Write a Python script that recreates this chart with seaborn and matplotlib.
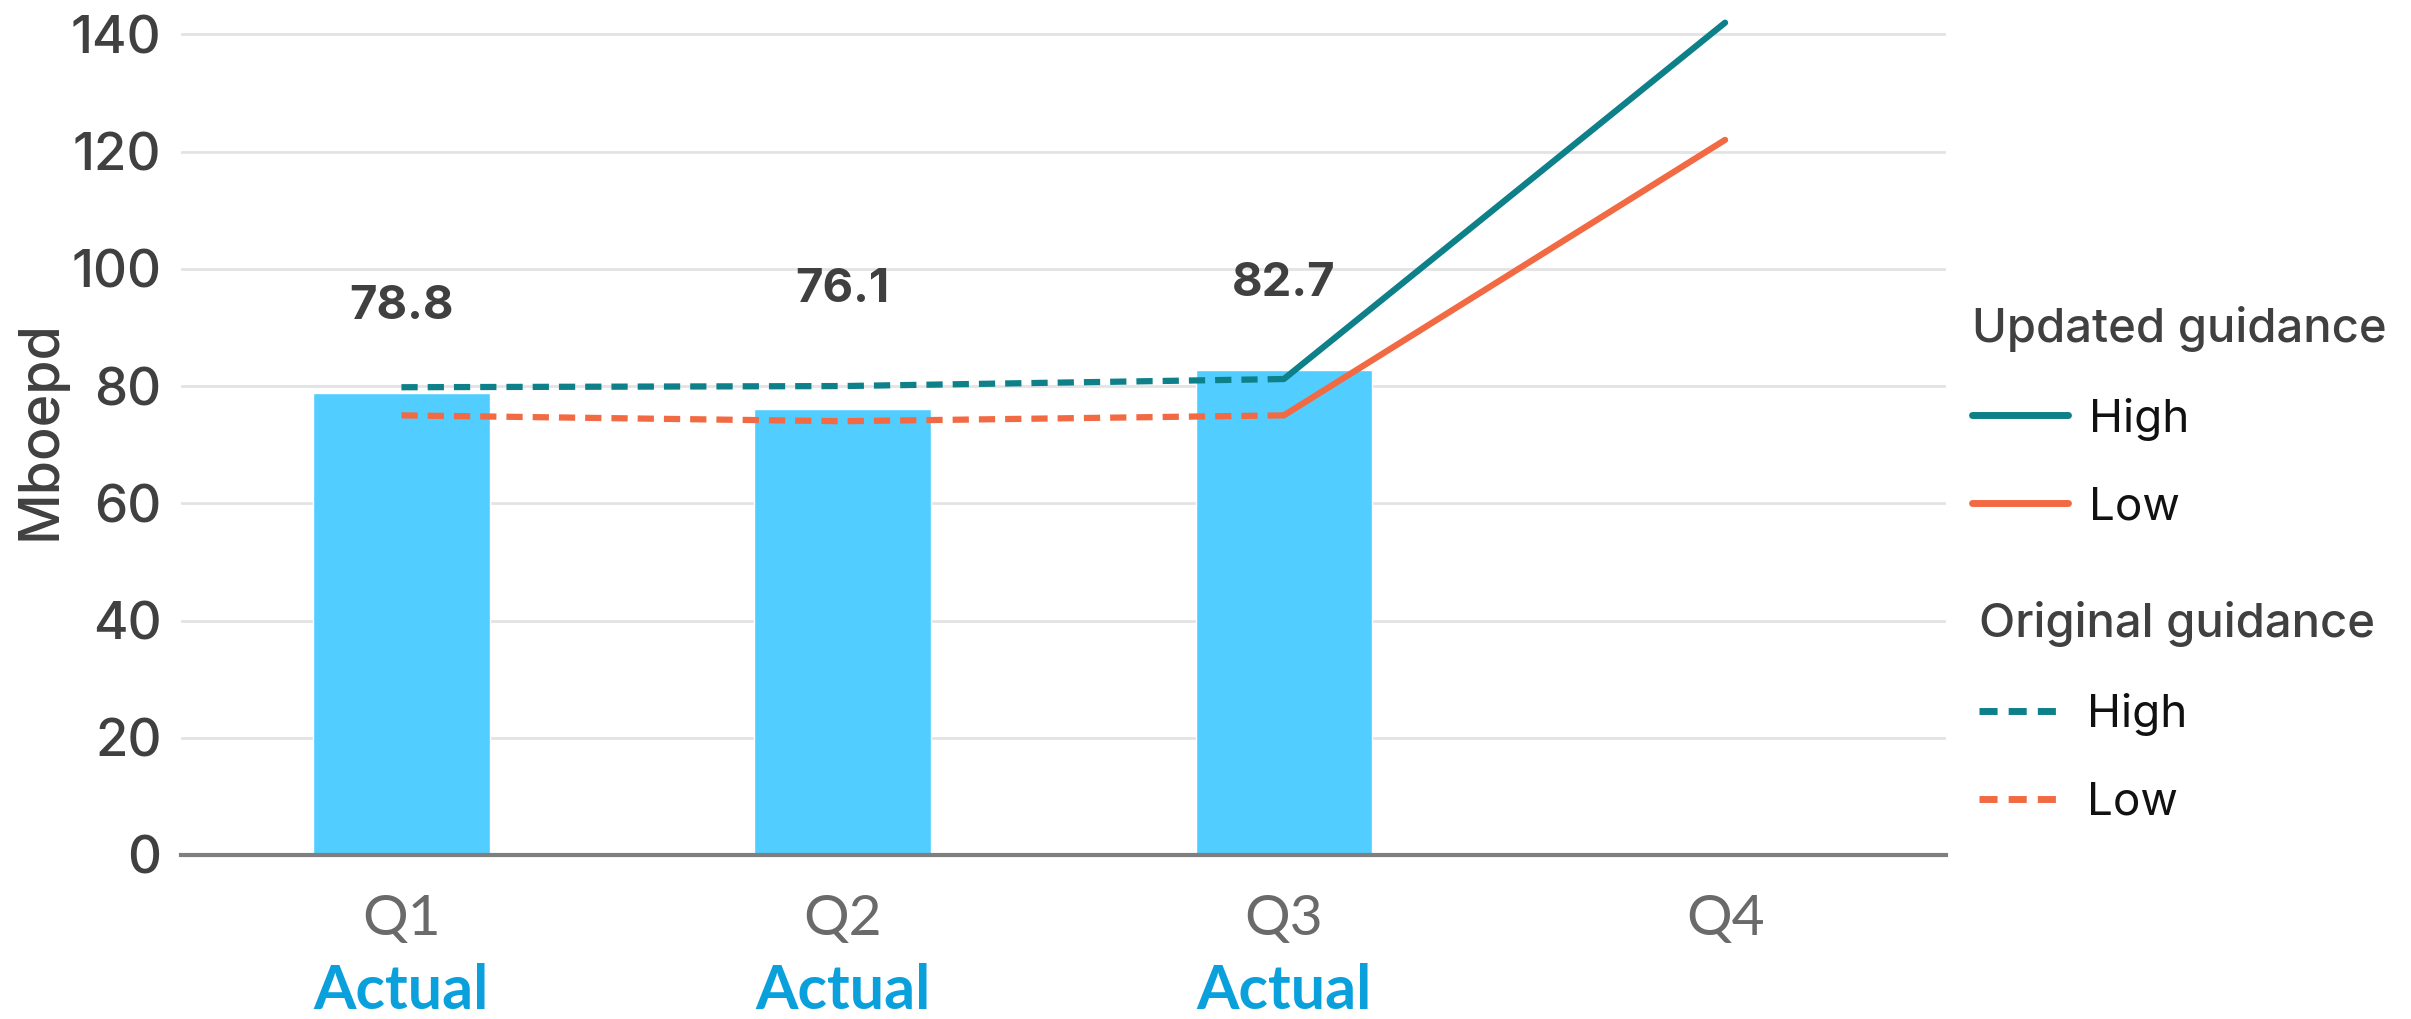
import pandas as pd
import matplotlib.pyplot as plt
import seaborn as sns
from matplotlib.lines import Line2D

# data
quarters = ['Q1', 'Q2', 'Q3', 'Q4']
actual_quarters = ['Q1', 'Q2', 'Q3']
actual_values = [78.8, 76.1, 82.7]

orig_quarters = ['Q1', 'Q2', 'Q3']
orig_high = [79.8, 80.0, 81.2]
orig_low = [75.0, 74.0, 75.0]

upd_quarters = ['Q3', 'Q4']
upd_high = [81.2, 142.0]
upd_low = [75.0, 122.0]

TEAL = '#0E8089'
ORANGE = '#F26A43'
BAR = '#52CDFF'
DARK = '#404040'

sns.set_theme(style='white')
plt.rcParams['font.family'] = ['Inter', 'DejaVu Sans']

fig = plt.figure(figsize=(24.11, 10.19), dpi=100)
ax = fig.add_axes([0.075, 0.161, 0.732, 0.834])

df_bar = pd.DataFrame({'Quarter': actual_quarters, 'Mboepd': actual_values})
sns.barplot(data=df_bar, x='Quarter', y='Mboepd', order=quarters,
            color=BAR, saturation=1, width=0.4, ax=ax, zorder=2)

# value labels
label_offsets = [46, 70, 46]
for p, v, off in zip(ax.patches, actual_values, label_offsets):
    ax.annotate(f"{v:.1f}", (p.get_x() + p.get_width() / 2, p.get_height()),
                xytext=(0, off), textcoords='offset points',
                ha='center', va='bottom', fontsize=34, fontweight='bold', color=DARK)

pos = {q: i for i, q in enumerate(quarters)}
dash = (0, (2.6, 1.6))
sns.lineplot(x=[pos[q] for q in orig_quarters], y=orig_high, color=TEAL, lw=4.5,
             linestyle=dash, ax=ax, zorder=3)
sns.lineplot(x=[pos[q] for q in orig_quarters], y=orig_low, color=ORANGE, lw=4.5,
             linestyle=dash, ax=ax, zorder=3)
sns.lineplot(x=[pos[q] for q in upd_quarters], y=upd_high, color=TEAL, lw=4.5, ax=ax, zorder=3)
sns.lineplot(x=[pos[q] for q in upd_quarters], y=upd_low, color=ORANGE, lw=4.5, ax=ax, zorder=3)

ax.set_xlim(-0.5, 3.5)
ax.set_ylim(0, 145)
ax.set_yticks(range(0, 141, 20))
ax.grid(axis='y', color='#E3E3E3', lw=2, zorder=0)
ax.set_axisbelow(True)
for s in ['top', 'right', 'left']:
    ax.spines[s].set_visible(False)
ax.spines['bottom'].set_color('#7F7F7F')
ax.spines['bottom'].set_linewidth(3)
ax.tick_params(axis='y', labelsize=38, colors=DARK, length=0, pad=14)
for t in ax.get_yticklabels():
    t.set_fontweight('medium')
ax.tick_params(axis='x', length=0, pad=28)
ax.set_xticks(range(len(quarters)))
ax.set_xticklabels(quarters, fontsize=41, color='#6A6A6A', family=['Lato', 'DejaVu Sans'])
for q in actual_quarters:
    ax.text(pos[q], -0.16, 'Actual', transform=ax.get_xaxis_transform(),
            ha='center', va='center', fontsize=44, fontweight='bold', color='#0AA0DC',
            family=['Lato', 'DejaVu Sans'])
ax.set_xlabel('')
ax.set_ylabel('Mboepd', fontsize=40, color=DARK, labelpad=3, fontweight='medium')

# legends
h_upd = [Line2D([], [], color=TEAL, lw=5, solid_capstyle='round'),
         Line2D([], [], color=ORANGE, lw=5, solid_capstyle='round')]
h_org = [Line2D([], [], color=TEAL, lw=5, linestyle=dash),
         Line2D([], [], color=ORANGE, lw=5, linestyle=dash)]
leg1 = fig.legend(h_upd, ['High', 'Low'], title='Updated guidance', loc='upper left',
                  bbox_to_anchor=(0.818, 0.70), frameon=False, fontsize=33,
                  title_fontsize=34, handlelength=2.1, handletextpad=0.45,
                  labelspacing=1.0, alignment='left', borderpad=0, borderaxespad=0)
leg2 = fig.legend(h_org, ['High', 'Low'], title='Original guidance', loc='upper left',
                  bbox_to_anchor=(0.821, 0.41), frameon=False, fontsize=33,
                  title_fontsize=34, handlelength=1.8, handletextpad=0.55,
                  labelspacing=1.0, alignment='left', borderpad=0, borderaxespad=0)
for lg in (leg1, leg2):
    lg.get_title().set_color(DARK)
    lg.get_title().set_fontweight('medium')
    for t in lg.get_texts():
        t.set_color('#111111')

fig.savefig('out.png', dpi=100)
